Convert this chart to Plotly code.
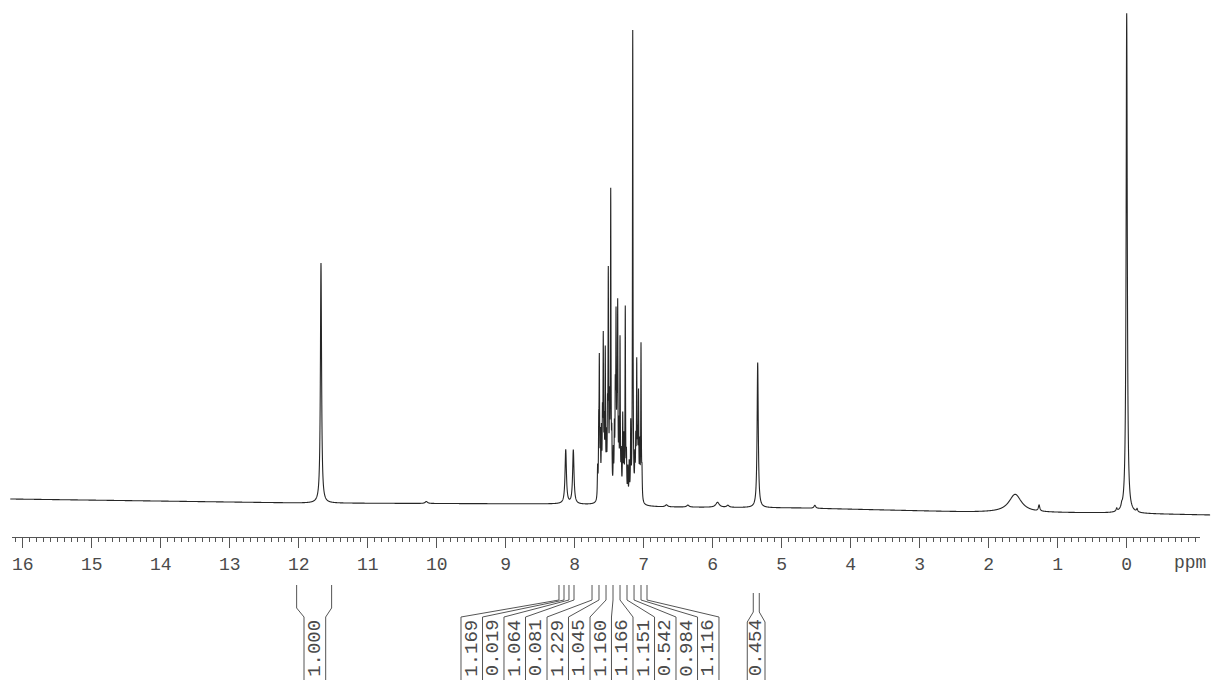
import numpy as np
import plotly.graph_objects as go

# ---------------- data ----------------
# isolated peaks: chemical shift (ppm), height above local baseline, half width (ppm)
peak_ppm = [11.677, 8.130, 8.020,
            10.15, 6.67, 6.36, 5.93, 5.78, 5.348, 4.52, 1.616, 1.27,
            0.145, 0.072, 0.000, -0.15]
peak_height = [240, 54, 54,
               2, 2, 2, 5, 2, 145, 3, 18, 6,
               3, 3, 500, 3]
peak_hwhm = [0.010, 0.012, 0.012,
             0.02, 0.02, 0.02, 0.03, 0.02, 0.010, 0.015, 0.11, 0.012,
             0.010, 0.010, 0.010, 0.010]

# aromatic multiplet lines (7.0 - 7.7 ppm)
arom_ppm = [7.668, 7.652, 7.643, 7.628, 7.612, 7.598, 7.586, 7.572, 7.557, 7.540,
            7.525, 7.513, 7.495, 7.478, 7.462, 7.440, 7.425, 7.412, 7.401, 7.388,
            7.377, 7.360, 7.343, 7.325, 7.304, 7.288, 7.267, 7.250, 7.230, 7.210,
            7.188, 7.159, 7.128, 7.115, 7.101, 7.088, 7.075, 7.058, 7.039, 7.025]
arom_height = [30, 60, 130, 55, 60, 70, 150, 60, 140, 50,
               70, 215, 80, 300, 50, 40, 60, 90, 165, 70,
               180, 60, 155, 40, 80, 55, 190, 40, 30, 35,
               72, 470, 35, 50, 130, 50, 100, 50, 155, 25]
arom_hwhm = 0.0045

# baseline drift knots (ppm, offset)
base_ppm = [16.18, 11.98, 8.21, 6.76, 4.73, 2.31, 0.39, -1.21]
base_off = [1, -3, -4, -7, -8, -12, -13, -15]

# ruler
tick_major = list(range(16, -2, -1))
tick_text = [str(v) if v >= 0 else "" for v in tick_major]

# integrals
int1_limits = [12.030, 11.523]
int1_box = [11.923, 11.609]
int1_label = ["1.000"]

int3_limits = [5.412, 5.325]
int3_box = [5.499, 5.242]
int3_label = ["0.454"]

int2_limits = [8.228, 8.155, 8.083, 8.010, 7.749, 7.648, 7.546, 7.445,
               7.343, 7.242, 7.140, 7.039, 6.952]
int2_box = [9.648, 9.336, 9.025, 8.713, 8.401, 8.090, 7.778, 7.467,
            7.155, 6.843, 6.532, 6.220, 5.909]
int2_labels = ["1.169", "0.019", "1.064", "0.081", "1.229", "1.045",
               "1.160", "1.166", "1.151", "0.542", "0.984", "1.116"]

# ---------------- build spectrum ----------------
all_ppm = list(peak_ppm) + list(arom_ppm)
all_h = list(peak_height) + list(arom_height)
all_w = list(peak_hwhm) + [arom_hwhm] * len(arom_ppm)

x = np.arange(16.18, -1.21, -0.001)
x = np.unique(np.concatenate([x, np.array(all_ppm)]))[::-1]
y = np.interp(x, base_ppm[::-1], base_off[::-1]).astype(float)
for p, h, w in zip(all_ppm, all_h, all_w):
    y += h / (1.0 + ((x - p) / w) ** 2)

W, H = 1212, 680
def py(p):  # pixel row -> paper y
    return 1 - p / H

ink = "#262626"
txt = "#4a4a4a"
font_mono = "Liberation Mono, Courier New, monospace"

fig = go.Figure()
fig.add_trace(go.Scatter(x=x, y=y, mode="lines",
                         line=dict(color=ink, width=1.1, simplify=False),
                         hoverinfo="skip", showlegend=False))
# invisible trace carrying the ruler axis
fig.add_trace(go.Scatter(x=[16, 0], y=[0, 0], xaxis="x2", yaxis="y",
                         mode="markers", marker=dict(opacity=0),
                         hoverinfo="skip", showlegend=False))

shapes = []
annotations = []

def bracket(limits, boxes, top0, top1, knee, labels):
    for lt, bx in zip(limits, boxes):
        shapes.append(dict(type="path", xref="x", yref="paper",
                           path=f"M {lt},{py(top0)} L {lt},{py(top1)} L {bx},{py(knee)} L {bx},{py(H)}",
                           line=dict(color="#555", width=1)))
    for i, lab in enumerate(labels):
        xc = (boxes[i] + boxes[i + 1]) / 2
        annotations.append(dict(x=xc, y=py(648), xref="x", yref="paper",
                                xanchor="center", yanchor="middle",
                                text=lab, showarrow=False, textangle=-90,
                                font=dict(family=font_mono, size=19, color=txt)))

bracket(int1_limits, int1_box, 585, 608, 617, int1_label)
bracket(int3_limits, int3_box, 593, 612, 622, int3_label)
bracket(int2_limits, int2_box, 585, 600, 617, int2_labels)

annotations.append(dict(x=1190 / W, y=py(563), xref="paper", yref="paper",
                        xanchor="center", yanchor="middle",
                        text="ppm", showarrow=False,
                        font=dict(family=font_mono, size=18, color=txt)))

# axis ranges consistent with pixel mapping  px = 1126.7 - 69*ppm
def ppm_at(px):
    return (1126.7 - px) / 69.0

minor_vals = [round(v, 1) for v in np.arange(16.1, -1.1, -0.1)]

fig.update_layout(
    width=W, height=H,
    margin=dict(l=0, r=0, t=0, b=0),
    paper_bgcolor="white", plot_bgcolor="rgba(0,0,0,0)",
    showlegend=False,
    xaxis=dict(domain=[0, 1], range=[ppm_at(0), ppm_at(W)], visible=False),
    xaxis2=dict(domain=[12 / W, 1200 / W], range=[ppm_at(12), ppm_at(1200)],
                anchor="free", position=py(537), side="bottom",
                showgrid=False, zeroline=False, showline=True, linecolor="#555",
                linewidth=1, ticks="outside", ticklen=10, tickcolor="#555",
                tickmode="array", tickvals=tick_major, ticktext=tick_text,
                tickfont=dict(family=font_mono, size=18, color=txt),
                minor=dict(tickmode="array", tickvals=minor_vals, ticks="outside",
                           ticklen=4, tickcolor="#555", showgrid=False)),
    yaxis=dict(domain=[0, 1], range=[-180, 500], visible=False),
    shapes=shapes, annotations=annotations,
)

fig.write_html("out.html")
